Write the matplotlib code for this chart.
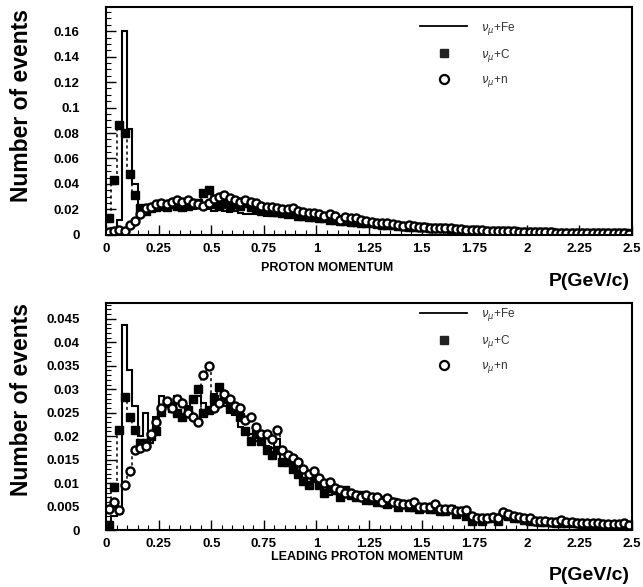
import numpy as np
import matplotlib
matplotlib.use("Agg")
import matplotlib.pyplot as plt
from matplotlib.ticker import MultipleLocator, AutoMinorLocator

# 100 bins of 0.025 GeV/c between 0 and 2.5, values in units of 1e-3
edges = np.linspace(0, 2.5, 101)

fe_top = [3, 5, 12, 160, 83, 40, 20, 19, 20, 21,
          20, 21, 21, 22, 21, 21, 20, 21, 20, 20,
          19, 20, 19, 18, 19, 17, 16, 16, 16, 16,
          15, 15, 15, 14, 14, 13, 13, 12, 12, 12,
          11, 11, 10.5, 10, 9.5, 9, 9, 8.5, 8, 8,
          7.5, 7, 7, 6.5, 6.5, 6, 6, 5.5, 5.5, 5,
          5, 4.5, 4.5, 4.5, 4, 4, 3.5, 3.5, 3.5, 3,
          3, 3, 2.8, 2.6, 2.6, 2.5, 2.8, 2.4, 2.2, 2,
          2, 2, 1.8, 1.8, 1.7, 1.6, 1.6, 1.5, 1.5, 1.4,
          1.4, 1.3, 1.3, 1.2, 1.2, 1.1, 1.1, 1.0, 1.0, 1.0]

c_top = [13, 43, 86, 80, 48, 31, 21, 19, 21, 22,
         23, 22, 24, 23, 22, 23, 24, 25, 33, 35,
         24, 23, 24, 22, 24, 23, 25, 22, 20, 19,
         19, 18, 18, 17, 16, 17, 15, 15, 14, 14,
         13, 13, 12, 12, 11, 11, 10, 10, 9.5, 9,
         9, 8.5, 8, 8, 7.5, 7, 7, 6.5, 6.5, 6,
         6, 5.5, 5, 5, 5, 4.5, 4.5, 4, 4, 3.5,
         3.5, 3.2, 3, 3, 3, 2.8, 3.2, 2.6, 2.5, 2.3,
         2.2, 2.2, 2, 2, 1.9, 1.8, 1.8, 1.7, 1.6, 1.6,
         1.5, 1.5, 1.4, 1.4, 1.3, 1.3, 1.2, 1.2, 1.1, 1.1]

n_top = [2, 3, 4, 3, 8, 11, 16, 21, 22, 24,
         25, 24, 26, 27, 26, 27, 25, 24, 23, 25,
         28, 30, 31, 29, 27, 26, 27, 26, 25, 23,
         22, 22, 21, 20, 20, 21, 19, 18, 17, 17,
         16, 15, 16, 15, 12, 14, 13, 13, 12, 11,
         10, 9, 9.5, 9, 8.5, 8, 7, 7.5, 7, 6.5,
         6, 5.5, 5.5, 5, 5, 5, 4.5, 4.5, 4, 4,
         3.5, 3.5, 3.2, 3, 3, 3, 2.8, 2.6, 2.5, 2.3,
         2.2, 2.1, 2, 2, 1.9, 1.8, 1.7, 1.7, 1.6, 1.5,
         1.5, 1.4, 1.4, 1.3, 1.3, 1.2, 1.2, 1.1, 1.1, 1.0]

fe_bot = [1.0, 3.0, 3.5, 43.7, 34.0, 26.5, 20.0, 25.0, 18.5, 24.0,
          28.5, 28.0, 27.0, 28.5, 27.5, 26.5, 27.5, 28.5, 27.0, 25.5,
          29.0, 28.0, 26.5, 25.0, 24.5, 22.0, 21.0, 20.5, 19.0, 18.5,
          18.0, 17.5, 19.5, 15.0, 14.5, 14.0, 12.5, 13.0, 11.0, 12.5,
          10.5, 10.0, 7.5, 9.0, 8.5, 8.0, 8.5, 8.0, 7.5, 7.5,
          7.0, 7.5, 6.5, 6.5, 6.0, 6.0, 5.5, 5.5, 5.5, 5.0,
          5.0, 5.5, 5.0, 4.5, 4.5, 4.5, 4.5, 4.0, 4.0, 2.5,
          2.5, 2.5, 3.0, 3.0, 2.5, 3.5, 3.0, 3.0, 2.8, 2.5,
          2.5, 2.0, 2.2, 2.0, 2.0, 1.8, 1.8, 1.7, 1.5, 1.6,
          1.5, 1.5, 1.4, 1.3, 1.3, 1.2, 1.2, 1.1, 1.2, 1.0]

c_bot = [1.0, 9.2, 21.4, 28.4, 24.0, 21.4, 18.6, 18.6, 20.0, 21.0,
         25.2, 27.0, 26.0, 25.0, 24.0, 25.5, 28.0, 30.0, 25.0, 25.5,
         28.0, 30.5, 28.0, 26.0, 25.5, 24.0, 21.0, 19.0, 20.5, 19.0,
         17.0, 16.0, 17.0, 14.5, 14.5, 13.0, 12.0, 10.5, 9.5, 11.0,
         9.5, 8.0, 9.0, 8.5, 7.0, 8.5, 7.5, 7.0, 7.5, 6.5,
         6.5, 6.0, 6.5, 5.5, 6.0, 5.0, 5.5, 5.0, 5.0, 4.5,
         5.0, 4.5, 4.5, 4.0, 4.0, 4.5, 3.5, 4.0, 3.0, 2.0,
         2.5, 2.0, 2.5, 2.5, 2.0, 3.5, 3.0, 2.5, 2.5, 2.2,
         2.0, 2.0, 1.8, 1.8, 1.7, 1.6, 1.6, 1.5, 1.4, 1.4,
         1.3, 1.3, 1.2, 1.2, 1.1, 1.1, 1.0, 1.0, 1.0, 0.9]

n_bot = [4.5, 6.0, 4.3, 9.6, 12.5, 17.0, 17.5, 18.0, 20.5, 23.0,
         26.0, 27.5, 26.0, 28.0, 27.0, 25.0, 24.0, 23.0, 33.0, 35.0,
         26.0, 27.0, 29.0, 28.0, 26.5, 26.0, 23.5, 24.0, 22.0, 20.5,
         20.5, 19.5, 21.3, 17.0, 16.0, 15.3, 14.5, 13.0, 12.0, 12.5,
         11.0, 10.0, 10.3, 9.0, 8.5, 8.0, 8.0, 7.5, 7.0, 7.5,
         7.0, 7.0, 6.0, 6.8, 6.0, 5.8, 5.5, 5.5, 6.0, 5.0,
         5.0, 5.0, 5.5, 4.5, 4.5, 4.5, 4.0, 4.0, 4.3, 3.0,
         2.5, 2.5, 2.5, 2.8, 2.5, 3.9, 3.5, 3.0, 2.8, 2.5,
         2.5, 2.0, 2.0, 2.0, 1.8, 1.8, 2.1, 1.7, 1.7, 1.6,
         1.5, 1.4, 1.4, 1.5, 1.3, 1.3, 1.2, 1.2, 1.4, 1.1]

labels = [r"$\nu_\mu$+Fe", r"$\nu_\mu$+C", r"$\nu_\mu$+n"]

plt.rcParams["font.family"] = ["Liberation Sans", "DejaVu Sans"]
plt.rcParams["mathtext.fontset"] = "dejavusans"

fig = plt.figure(figsize=(6.43, 5.87), dpi=100)
ax1 = fig.add_axes([0.165, 0.600, 0.818, 0.388])
ax2 = fig.add_axes([0.165, 0.097, 0.818, 0.387])

centers = 0.5 * (edges[:-1] + edges[1:])


def draw_panel(ax, fe, c, n, ymax, ymajor, yminor_n, leg_y):
    fe = np.array(fe) * 1e-3
    c = np.array(c) * 1e-3
    n = np.array(n) * 1e-3
    ax.stairs(fe, edges, color="black", lw=1.5, baseline=None)
    ax.stairs(c, edges, color="black", lw=1.1, ls=(0, (2, 2)), baseline=None)
    ax.stairs(n, edges, color="black", lw=1.1, ls=(0, (2, 2)), baseline=None)
    ax.plot(centers, c, "s", color="black", ms=5.2, ls="none")
    ax.plot(centers, n, "o", mfc="white", mec="black", mew=1.7, ms=5.8, ls="none")

    ax.set_xlim(0, 2.5)
    ax.set_ylim(0, ymax)
    ax.xaxis.set_major_locator(MultipleLocator(0.25))
    ax.xaxis.set_minor_locator(AutoMinorLocator(5))
    ax.yaxis.set_major_locator(MultipleLocator(ymajor))
    ax.yaxis.set_minor_locator(AutoMinorLocator(yminor_n))
    ax.set_xticklabels([("%g" % v) for v in ax.get_xticks()])
    ax.set_yticklabels([("%g" % round(v, 4)) for v in ax.get_yticks()])
    ax.tick_params(which="both", direction="in", top=False, right=False,
                   labelsize=9.5)
    ax.tick_params(axis="x", pad=6)
    ax.tick_params(axis="y", pad=19)
    ax.tick_params(which="major", length=7, width=1)
    ax.tick_params(which="minor", length=3.5, width=0.8)
    for lab in ax.get_xticklabels() + ax.get_yticklabels():
        lab.set_fontweight("bold")
    for sp in ax.spines.values():
        sp.set_linewidth(1.5)

    h_fe, = ax.plot([], [], color="black", lw=1.3)
    h_c, = ax.plot([], [], "s", color="#222222", ms=6)
    h_n, = ax.plot([], [], "o", mfc="white", mec="black", mew=1.6, ms=6.5)
    leg = ax.legend([h_fe, h_c, h_n], labels, loc="upper left",
                    bbox_to_anchor=(0.597, leg_y), frameon=False,
                    fontsize=8.5, handlelength=4, handletextpad=1.2,
                    labelspacing=0.85, borderpad=0, borderaxespad=0)
    for t in leg.get_texts():
        t.set_color("#333333")


draw_panel(ax1, fe_top, c_top, n_top, 0.179, 0.02, 4, 0.945)
draw_panel(ax2, fe_bot, c_bot, n_bot, 0.0484, 0.005, 5, 0.985)

fig.text(0.034, 1 - 106 / 587, "Number of events", rotation=90,
         ha="center", va="center", fontsize=16.5, fontweight="bold")
fig.text(0.034, 1 - 400 / 587, "Number of events", rotation=90,
         ha="center", va="center", fontsize=16.5, fontweight="bold")

fig.text(327 / 643, 1 - 268 / 587, "PROTON MOMENTUM", ha="center",
         va="center", fontsize=9, fontweight="bold")
fig.text(367 / 643, 1 - 557 / 587, "LEADING PROTON MOMENTUM", ha="center",
         va="center", fontsize=9, fontweight="bold")
fig.text(630 / 643, 1 - 281 / 587, "P(GeV/c)", ha="right", va="center",
         fontsize=14, fontweight="bold")
fig.text(630 / 643, 1 - 575 / 587, "P(GeV/c)", ha="right", va="center",
         fontsize=14, fontweight="bold")

fig.savefig("out.png", dpi=100)
